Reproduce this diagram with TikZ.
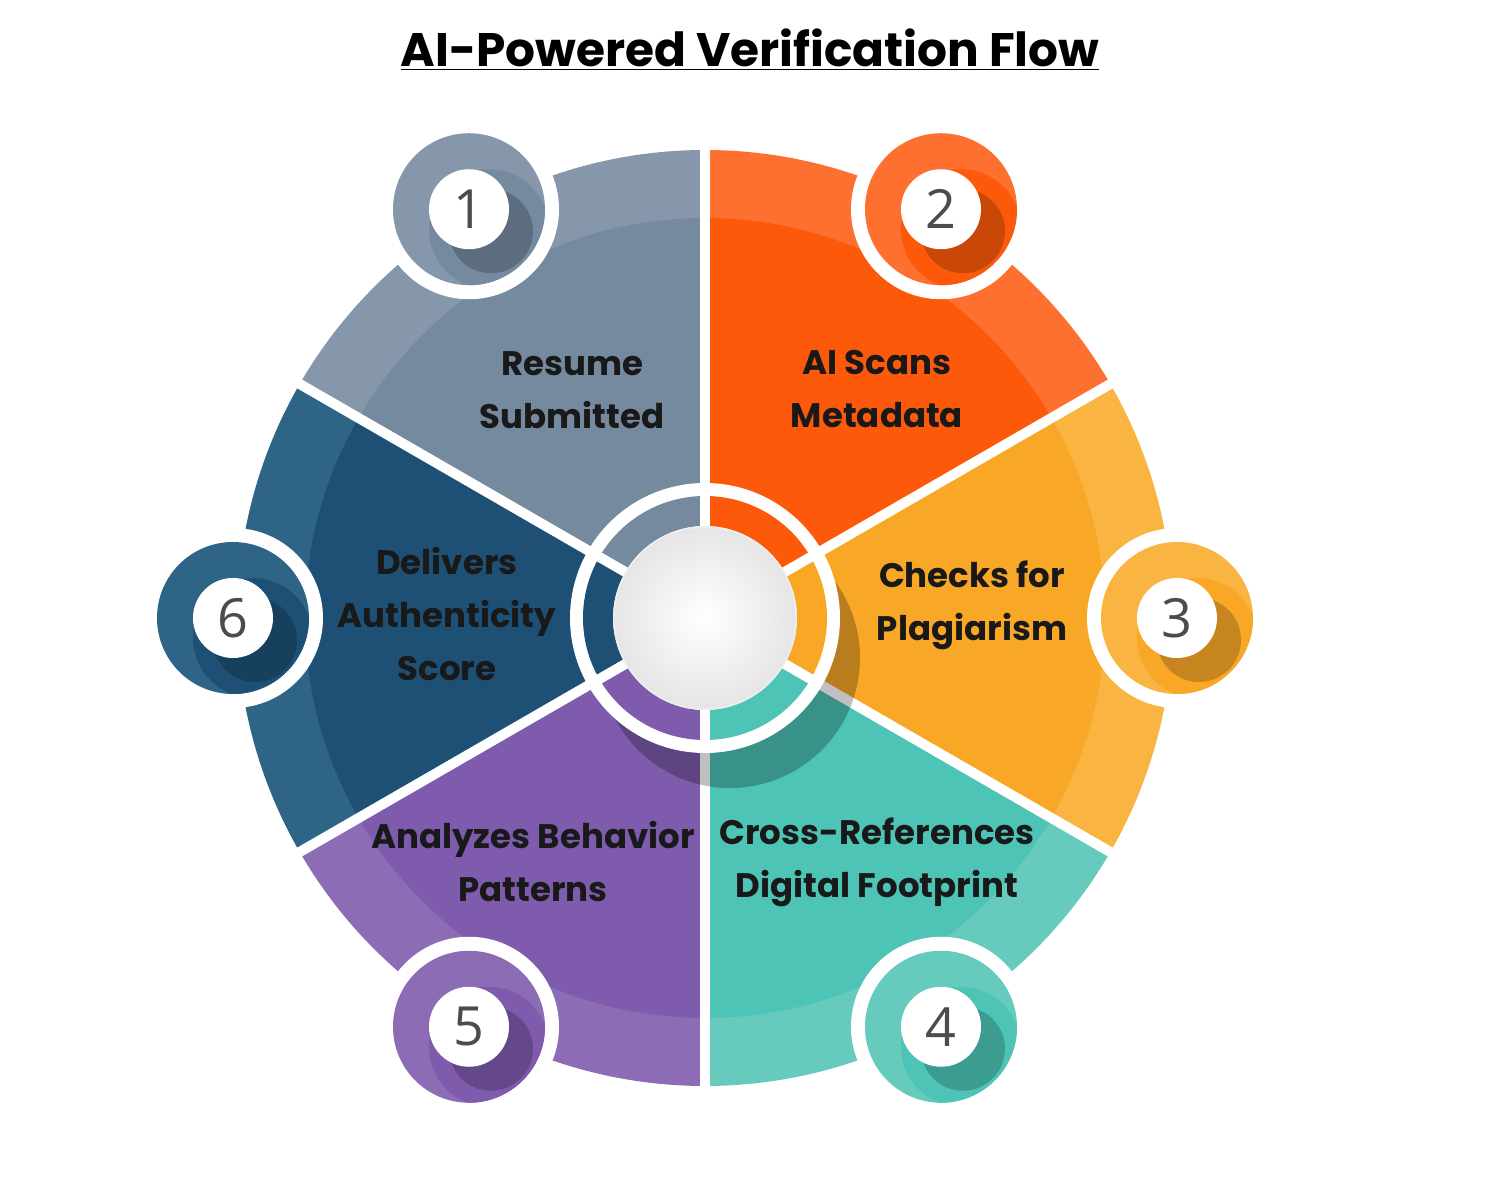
\documentclass[tikz,border=0pt]{standalone}
\usepackage{fontspec}
\usetikzlibrary{calc}
\setmainfont{Poppins}
\newfontfamily\numfont{Open Sans}
\begin{document}
\begin{tikzpicture}[x=0.5pt,y=0.5pt,
  lbl/.style={font=\fontsize{17}{26.5}\selectfont\bfseries, text=black!90, align=center},
  num/.style={font=\numfont\fontsize{27}{27}\selectfont, text=black!70}]
\useasboundingbox (0,0) rectangle (1500,1200);
\definecolor{cA}{HTML}{75899F}\definecolor{bA}{HTML}{8797AB}
\definecolor{cB}{HTML}{FC5A0A}\definecolor{bB}{HTML}{FD7030}
\definecolor{cC}{HTML}{F9A727}\definecolor{bC}{HTML}{FAB441}
\definecolor{cD}{HTML}{4DC4B5}\definecolor{bD}{HTML}{66CBBD}
\definecolor{cE}{HTML}{7E5BAC}\definecolor{bE}{HTML}{8C6DB5}
\definecolor{cF}{HTML}{1D5074}\definecolor{bF}{HTML}{2E6587}
\coordinate (c) at (705,582);
\node[font=\fontsize{23.5}{28}\selectfont\bfseries] (title) at (750,1150) {\underline{AI-Powered Verification Flow}};
% sectors
\foreach \a/\b/\cc/\bb in {90/150/cA/bA,30/90/cB/bB,-30/30/cC/bC,-90/-30/cD/bD,210/270/cE/bE,150/210/cF/bF}{
  \fill[\bb] (c) -- ++(\a:468) arc (\a:\b:468) -- cycle;
  \fill[\cc] (c) -- ++(\a:400) arc (\a:\b:400) -- cycle;
}
\foreach \a in {90,30,-30,-90,210,150}
  \draw[white,line width=5pt] (c) -- ++(\a:480);
% labels
\node[lbl] (l1) at (572,810) {Resume\\Submitted};
\node[lbl] (l2) at (877,811) {AI Scans\\Metadata};
\node[lbl] (l3) at (972,595) {Checks for\\Plagiarism};
\node[lbl] (l4) at (877,338) {Cross-References\\Digital Footprint};
\node[lbl] (l5) at (533,338) {Analyzes Behavior\\Patterns};
\node[lbl] (l6) at (447,586) {Delivers\\Authenticity\\Score};
% badges
\foreach \ang/\cc/\bb/\n in {120/cA/bA/1,60/cB/bB/2,0/cC/bC/3,-60/cD/bD/4,-120/cE/bE/5,180/cF/bF/6}{
  \begin{scope}[shift={($(c)+(\ang:472)$)}]
    \fill[white] (0,0) circle (90);
    \fill[\bb] (0,0) circle (76);
    \begin{scope}
      \clip (0,0) circle (76);
      \fill[\cc] (20,-20) circle (60);
      \fill[black,opacity=0.2] (22,-22) circle (42);
    \end{scope}
    \fill[white] (0,0) circle (40);
    \node[num] (n\n) at (0,0) {\n};
  \end{scope}
}
% center
\fill[black,opacity=0.25] ($(c)+(25,-40)$) circle (130);
\fill[white] (c) circle (135);
\foreach \a/\b/\cc in {90/150/cA,30/90/cB,-30/30/cC,-90/-30/cD,210/270/cE,150/210/cF}{
  \fill[\cc] ($(c)+(\a:122)$) arc (\a:\b:122) -- ($(c)+(\b:92)$) arc (\b:\a:92) -- cycle;
}
\foreach \a in {90,30,-30,-90,210,150}
  \draw[white,line width=5pt] ($(c)+(\a:88)$) -- ++(\a:40);
\fill[white!93!black] (c) circle (92);
\shade[inner color=white, outer color=white!90!black] (c) circle (90);
\end{tikzpicture}
\end{document}
